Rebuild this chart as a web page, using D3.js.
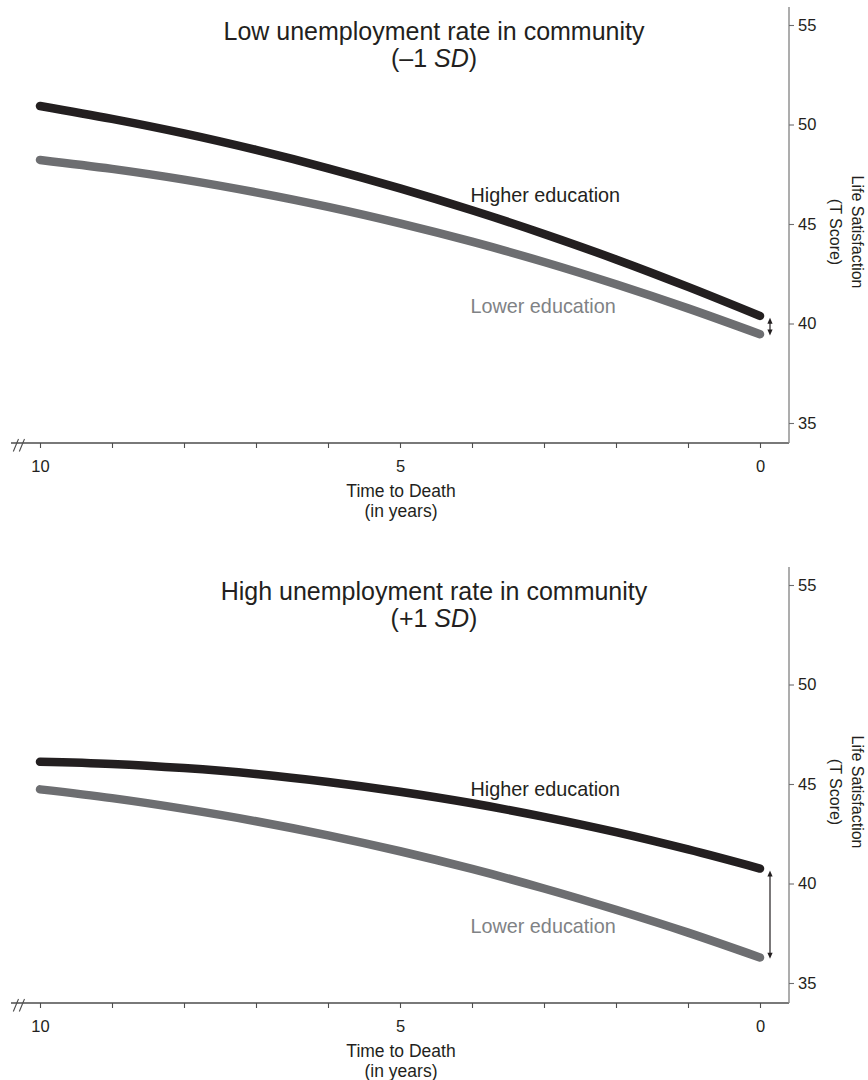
<!DOCTYPE html>
<html>
<head>
<meta charset="utf-8">
<script src="https://cdn.jsdelivr.net/npm/d3@7"></script>
<style>
  html, body { margin: 0; padding: 0; background: #fff; }
  svg { display: block; font-family: "Liberation Sans", Arial, Helvetica, sans-serif; }
</style>
</head>
<body>
<svg id="chart" width="868" height="1080"></svg>
<script>
// ---- data ----
const years = [10, 9, 8, 7, 6, 5, 4, 3, 2, 1, 0];
const xTickLabels = {10: "10", 5: "5", 0: "0"};
const yTicks = [35, 40, 45, 50, 55];

const panelTitles = [
  ["Low unemployment rate in community", "(\u20131 ", "SD", ")"],
  ["High unemployment rate in community", "(+1 ", "SD", ")"]
];
const seriesNames = ["Higher education", "Lower education"];

// Low unemployment (-1 SD)
const lowHigherEdu = [50.93, 50.28, 49.55, 48.72, 47.80, 46.79, 45.69, 44.50, 43.22, 41.84, 40.38];
const lowLowerEdu  = [48.22, 47.77, 47.23, 46.59, 45.86, 45.03, 44.11, 43.09, 41.97, 40.76, 39.46];
// High unemployment (+1 SD)
const highHigherEdu = [46.12, 46.01, 45.80, 45.50, 45.10, 44.61, 44.03, 43.35, 42.58, 41.71, 40.75];
const highLowerEdu  = [44.73, 44.29, 43.75, 43.13, 42.42, 41.62, 40.73, 39.75, 38.68, 37.53, 36.28];

const panelsData = [
  [lowHigherEdu, lowLowerEdu],
  [highHigherEdu, highLowerEdu]
];

// ---- styling ----
const colHigh = "#231f20";
const colLow = "#6d6e71";
const colLowText = "#808285";

const svg = d3.select("#chart");
const x = d3.scaleLinear().domain([10, 0]).range([40, 760]);
const axisX = 789;

panelsData.forEach((series, p) => {
  const off = p * 560;
  const g = svg.append("g").attr("transform", `translate(0,${off})`);
  const y = d3.scaleLinear().domain([35, 55]).range([423, 25]);
  const baseY = 443;

  // title
  const t = panelTitles[p];
  g.append("text").attr("x", 434).attr("y", 40).attr("text-anchor", "middle")
    .attr("font-size", 25).attr("fill", "#231f20").text(t[0]);
  const t2 = g.append("text").attr("x", 434).attr("y", 67).attr("text-anchor", "middle")
    .attr("font-size", 25).attr("fill", "#231f20");
  t2.append("tspan").text(t[1]);
  t2.append("tspan").attr("font-style", "italic").text(t[2]);
  t2.append("tspan").text(t[3]);

  // x axis
  g.append("line").attr("x1", 11).attr("x2", axisX).attr("y1", baseY).attr("y2", baseY)
    .attr("stroke", "#4d4d4d").attr("stroke-width", 1.3);
  const xa = g.append("g").attr("transform", `translate(0,${baseY})`)
    .call(d3.axisBottom(x).tickValues(years).tickSize(5).tickPadding(12)
      .tickFormat(d => xTickLabels[d] || ""));
  xa.select(".domain").remove();
  xa.selectAll(".tick line").attr("stroke", "#4d4d4d").attr("stroke-width", 1.1);
  xa.selectAll(".tick text").attr("font-size", 16.5).attr("fill", "#231f20")
    .attr("font-family", "'Liberation Sans', Arial, sans-serif");

  // axis break marks
  [[13.3, 18.5], [19.3, 24.5]].forEach(([a, b]) => {
    g.append("line").attr("x1", a).attr("y1", baseY + 8.5).attr("x2", b).attr("y2", baseY - 4)
      .attr("stroke", "#4d4d4d").attr("stroke-width", 1.1);
  });

  // x axis title
  g.append("text").attr("x", 401).attr("y", baseY + 54).attr("text-anchor", "middle")
    .attr("font-size", 17.5).attr("fill", "#231f20").text("Time to Death");
  g.append("text").attr("x", 401).attr("y", baseY + 74).attr("text-anchor", "middle")
    .attr("font-size", 17.5).attr("fill", "#231f20").text("(in years)");

  // y axis (right)
  g.append("line").attr("x1", axisX).attr("x2", axisX).attr("y1", 7).attr("y2", baseY)
    .attr("stroke", "#8a8a8a").attr("stroke-width", 1.4);
  const ya = g.append("g").attr("transform", `translate(${axisX},0)`)
    .call(d3.axisRight(y).tickValues(yTicks).tickSize(5).tickPadding(4));
  ya.select(".domain").remove();
  ya.selectAll(".tick line").attr("stroke", "#6d6e71").attr("stroke-width", 1.1);
  ya.selectAll(".tick text").attr("font-size", 16.5).attr("fill", "#231f20")
    .attr("font-family", "'Liberation Sans', Arial, sans-serif");

  // y axis title (rotated clockwise)
  const yt = g.append("g").attr("transform", "translate(851.5,232) rotate(90)");
  yt.append("text").attr("x", 0).attr("y", 0).attr("text-anchor", "middle")
    .attr("font-size", 16).attr("fill", "#231f20").text("Life Satisfaction");
  yt.append("text").attr("x", 0).attr("y", 22).attr("text-anchor", "middle")
    .attr("font-size", 16).attr("fill", "#231f20").text("(T Score)");

  // lines
  const line = d3.line().x((d, i) => x(years[i])).y(d => y(d)).curve(d3.curveMonotoneX);
  const cols = [colHigh, colLow];
  series.forEach((s, k) => {
    g.append("path").datum(s).attr("d", line).attr("fill", "none")
      .attr("stroke", cols[k]).attr("stroke-width", 8.5)
      .attr("stroke-linecap", "round").attr("stroke-linejoin", "round");
  });

  // series labels
  const labelPos = p === 0 ? [202, 312.7] : [236, 373];
  g.append("text").attr("x", 470.5).attr("y", labelPos[0])
    .attr("font-size", 19.8).attr("fill", colHigh).text(seriesNames[0]);
  g.append("text").attr("x", 470.5).attr("y", labelPos[1])
    .attr("font-size", 19.8).attr("fill", colLowText).text(seriesNames[1]);

  // difference arrow at time 0
  const ax = 770;
  const y1 = y(series[0][series[0].length - 1]) + 1.8;
  const y2 = y(series[1][series[1].length - 1]) + 1.2;
  const hl = Math.min(6, (y2 - y1) / 2.2), hw = 2.6;
  g.append("line").attr("x1", ax).attr("x2", ax).attr("y1", y1 + hl * 0.6).attr("y2", y2 - hl * 0.6)
    .attr("stroke", "#231f20").attr("stroke-width", 1.2);
  g.append("path").attr("d", `M${ax},${y1} L${ax - hw},${y1 + hl} L${ax + hw},${y1 + hl} Z`)
    .attr("fill", "#231f20");
  g.append("path").attr("d", `M${ax},${y2} L${ax - hw},${y2 - hl} L${ax + hw},${y2 - hl} Z`)
    .attr("fill", "#231f20");
});
</script>
</body>
</html>
